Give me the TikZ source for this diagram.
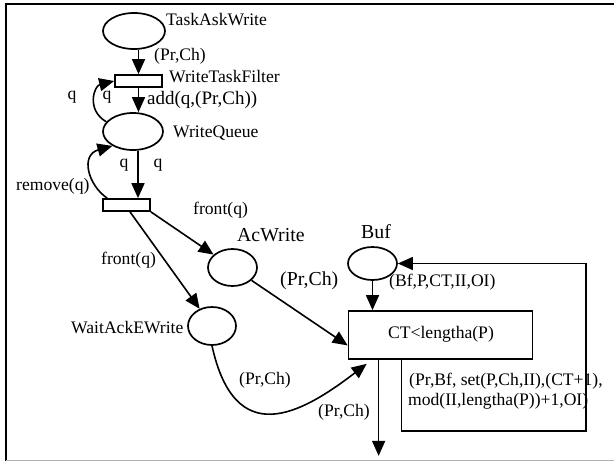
\documentclass[tikz,border=0pt]{standalone}
\usepackage{fontspec}
\setmainfont{Liberation Serif}
\usetikzlibrary{arrows.meta,calc,shapes.geometric}
\begin{document}
\begin{tikzpicture}[x=1pt,y=-1pt,
  place/.style={draw,ellipse,line width=1.7pt,inner sep=0pt},
  trans/.style={draw,rectangle,line width=1.7pt,inner sep=0pt},
  arc/.style={line width=1.6pt,-{Triangle[length=15pt,width=13pt]}},
  lbl/.style={inner sep=0pt,font=\fontsize{17.6}{20}\selectfont},
  biglbl/.style={inner sep=0pt,font=\fontsize{19.8}{22}\selectfont}]
\useasboundingbox (0,0) rectangle (614,461);
% frame
\draw[line width=2pt] (614,3.5) -- (5.7,3.5) -- (5.7,461);
\draw[gray!60,line width=1pt] (6,460) -- (614,460);
% places and transitions
\node[place,minimum width=62pt,minimum height=36pt] (taw) at (134,31) {};
\node[trans,minimum width=47pt,minimum height=12pt] (wtf) at (138.5,81) {};
\node[place,minimum width=60pt,minimum height=37pt] (wq) at (133,131.5) {};
\node[trans,minimum width=47pt,minimum height=12pt] (t2) at (126.5,205) {};
\node[place,minimum width=49pt,minimum height=37pt] (acw) at (232.5,267.5) {};
\node[place,minimum width=48pt,minimum height=38pt] (wae) at (212,326) {};
\node[place,minimum width=49pt,minimum height=33pt] (buf) at (372.5,263.5) {};
\node[trans,minimum width=184pt,minimum height=48pt] (box) at (440.5,335) {};
\node[lbl] (boxl) at (441,334) {CT<lengtha(P)};
% coordinates
\coordinate (q2) at ($(t2.north)+(11.5,0)$);
\coordinate (b1) at ($(box.south west)!0.29!(box.north west)$);
\coordinate (b2) at ($(box.south west)+(19,4)$);
\coordinate (t2s) at ($(t2.south)+(3.5,0)$);
\coordinate (outend) at ($(box.south west)+(31,96)$);
\coordinate (lp1) at ($(box.south west)+(54,0)$);
\coordinate (c1) at (586,431);
% arcs
\draw[arc] (taw.south -| wtf.north) -- (wtf.north);
\draw[arc] (wtf.south) -- (wtf.south |- wq.north);
\draw[arc] (wq.160) .. controls (86,110) and (94,86) .. (wtf.west);
\draw[arc] (q2 |- wq.south) -- (q2);
\draw[arc] ($(t2.north west)+(5,0)$) .. controls (88,185) and (80,155) .. (wq.215);
\draw[arc] (t2.south east) -- (acw);
\draw[arc] (t2s) -- (wae);
\draw[arc] (acw) -- (b1);
\draw[arc] (wae.south) .. controls (235,450) and (300,415) .. (b2);
\draw[arc] (buf.south) -- (buf.south |- box.north);
\draw[arc] (outend |- box.south) -- (outend);
\draw[arc] (lp1) |- (c1) |- (buf.east);
% labels
\node[lbl,anchor=west] (l1) at (166,20) {TaskAskWrite};
\node[lbl,anchor=west] (l2) at (154,56) {(Pr,Ch)};
\node[lbl,anchor=west] (l3) at (169,77) {WriteTaskFilter};
\node[lbl] (l4) at (72,97) {q};
\node[lbl] (l5) at (107,97) {q};
\node[lbl,anchor=west,font=\fontsize{19}{20}\selectfont] (l6) at (147,100) {add(q,(Pr,Ch))};
\node[lbl,anchor=west] (l7) at (173,133) {WriteQueue};
\node[lbl] (l8) at (124,165) {q};
\node[lbl] (l9) at (158,165) {q};
\node[lbl,anchor=west] (l10) at (16,186) {remove(q)};
\node[lbl,anchor=west] (l11) at (193,210) {front(q)};
\node[biglbl,anchor=west] (l12) at (237,235) {AcWrite};
\node[lbl,anchor=west] (l13) at (101,260) {front(q)};
\node[lbl,anchor=west] (l14) at (71,328) {WaitAckEWrite};
\node[biglbl,anchor=west] (l15) at (280,281) {(Pr,Ch)};
\node[lbl,anchor=west] (l16) at (239,380) {(Pr,Ch)};
\node[biglbl] (l17) at (376,232) {Buf};
\node[lbl,anchor=west] (l18) at (389,282) {(Bf,P,CT,II,OI)};
\node[lbl,anchor=west] (l19) at (318,412) {(Pr,Ch)};
\node[lbl,anchor=west] (l20) at (409,381) {(Pr,Bf, set(P,Ch,II),(CT+1),};
\node[lbl,anchor=west] (l21) at (408,401) {mod(II,lengtha(P))+1,OI)};
\end{tikzpicture}
\end{document}
